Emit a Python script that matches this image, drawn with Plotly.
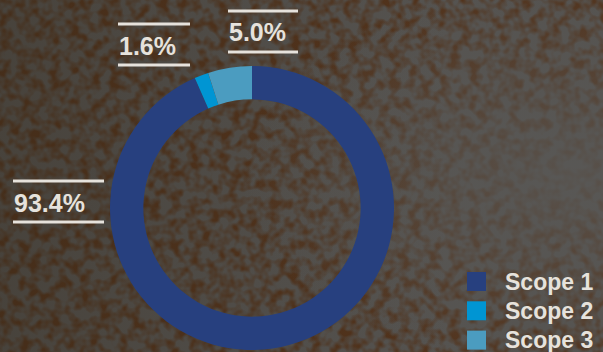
import base64
import plotly.graph_objects as go

# Emission shares by scope (percent)
labels = ["Scope 1", "Scope 2", "Scope 3"]
values = [93.4, 1.6, 5.0]
colors = ["#27407f", "#0095d3", "#4b9cc0"]

W, H = 603, 352
TEXT = "#e6e2dc"
FONT = "Liberation Sans, Arial, Helvetica, sans-serif"


def px(x, y):
    """Pixel position (top-left origin) -> paper coordinates."""
    return x / W, 1 - y / H


# Textured rust/steel backdrop drawn as an inline SVG
bg_svg = f"""<svg xmlns='http://www.w3.org/2000/svg' width='{W}' height='{H}' viewBox='0 0 {W} {H}'>
<defs>
<filter id='rust' x='0' y='0' width='100%' height='100%' color-interpolation-filters='sRGB'>
<feTurbulence type='fractalNoise' baseFrequency='0.10' numOctaves='2' seed='7' result='t'/>
<feColorMatrix in='t' type='matrix' values='0 0 0 0 0.32  0 0 0 0 0.20  0 0 0 0 0.11  2.8 0 0 0 -1.05'/>
</filter>
<linearGradient id='shade' x1='0' y1='0' x2='1' y2='0'>
<stop offset='0' stop-color='#2e2416' stop-opacity='0.35'/>
<stop offset='0.45' stop-color='#2e2416' stop-opacity='0.12'/>
<stop offset='0.75' stop-color='#2e2416' stop-opacity='0'/>
</linearGradient>
<radialGradient id='steel' cx='0.95' cy='0.5' r='0.55'>
<stop offset='0' stop-color='#595856' stop-opacity='0.85'/>
<stop offset='0.6' stop-color='#595856' stop-opacity='0.35'/>
<stop offset='1' stop-color='#595856' stop-opacity='0'/>
</radialGradient>
</defs>
<rect width='{W}' height='{H}' fill='#555350'/>
<rect width='{W}' height='{H}' filter='url(#rust)'/>
<rect width='{W}' height='{H}' fill='url(#shade)'/>
<rect width='{W}' height='{H}' fill='url(#steel)'/>
</svg>"""
bg_uri = "data:image/svg+xml;base64," + base64.b64encode(bg_svg.encode()).decode()

# Donut geometry (pixels)
cx, cy, r = 252, 208, 142

fig = go.Figure(
    go.Pie(
        labels=labels,
        values=values,
        marker=dict(colors=colors, line=dict(width=0)),
        hole=0.765,
        sort=False,
        direction="clockwise",
        rotation=0,
        textinfo="none",
        showlegend=False,
        domain=dict(x=[(cx - r) / W, (cx + r) / W],
                    y=[(H - cy - r) / H, (H - cy + r) / H]),
    )
)

shapes = []
annotations = []

# Value callouts: text between two rules
callouts = {
    "Scope 1": dict(x0=13, x1=104, top=181, bottom=222),
    "Scope 2": dict(x0=118, x1=190, top=24, bottom=65),
    "Scope 3": dict(x0=228, x1=298, top=11, bottom=52),
}
for lab, val in zip(labels, values):
    c = callouts[lab]
    for yy in (c["top"], c["bottom"]):
        xa, ya = px(c["x0"], yy)
        xb, _ = px(c["x1"], yy)
        shapes.append(dict(type="line", xref="paper", yref="paper",
                           x0=xa, x1=xb, y0=ya, y1=ya,
                           line=dict(color=TEXT, width=3)))
    tx, ty = px(c["x0"] - 1, (c["top"] + c["bottom"]) / 2 + 1)
    annotations.append(dict(xref="paper", yref="paper", x=tx, y=ty,
                            xanchor="left", yanchor="middle", showarrow=False,
                            text=f"<b>{val:.1f}%</b>",
                            font=dict(family=FONT, size=25, color=TEXT)))

# Legend keys
for i, (lab, col) in enumerate(zip(labels, colors)):
    yc = 281.5 + i * 29.3
    xa, ya = px(467, yc - 9.5)
    xb, yb = px(486, yc + 9.5)
    shapes.append(dict(type="rect", xref="paper", yref="paper",
                       x0=xa, x1=xb, y0=yb, y1=ya,
                       fillcolor=col, line=dict(width=0)))
    tx, ty = px(503, yc)
    annotations.append(dict(xref="paper", yref="paper", x=tx, y=ty,
                            xanchor="left", yanchor="middle", showarrow=False,
                            text=f"<b>{lab}</b>",
                            font=dict(family=FONT, size=23, color=TEXT)))

fig.update_layout(
    width=W, height=H,
    margin=dict(l=0, r=0, t=0, b=0),
    paper_bgcolor="#555350",
    plot_bgcolor="rgba(0,0,0,0)",
    shapes=shapes,
    annotations=annotations,
    images=[dict(source=bg_uri, xref="paper", yref="paper", x=0, y=1,
                 sizex=1, sizey=1, xanchor="left", yanchor="top",
                 sizing="stretch", layer="below")],
)

fig.write_html("out.html", config=dict(displayModeBar=False))
